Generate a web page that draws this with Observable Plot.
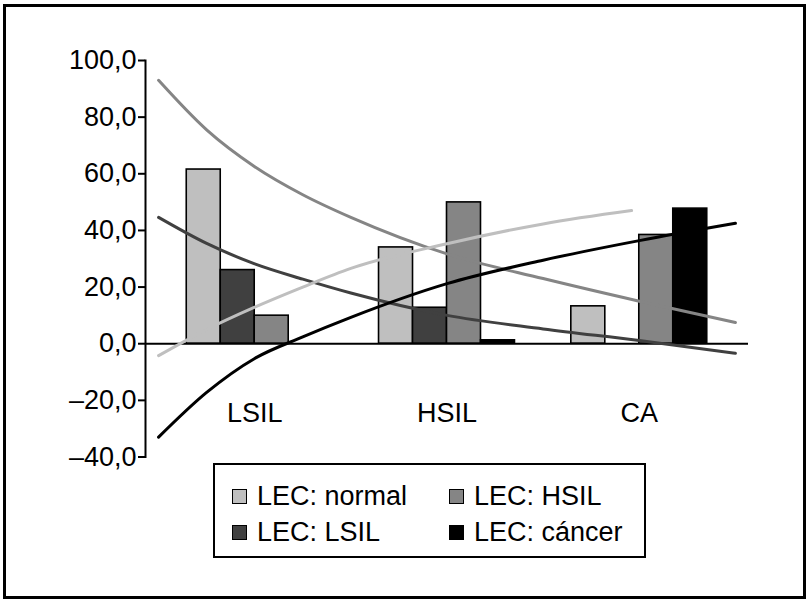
<!DOCTYPE html>
<html>
<head>
<meta charset="utf-8">
<script src="https://cdn.jsdelivr.net/npm/d3@7"></script>
<script src="https://cdn.jsdelivr.net/npm/@observablehq/plot@0.6"></script>
<style>
  html, body { margin: 0; padding: 0; background: #fff; }
  #wrap { position: relative; width: 811px; height: 604px; overflow: hidden; font-family: "Liberation Sans", Arial, sans-serif; }
  #border { position: absolute; left: 3px; top: 4px; width: 803px; height: 595px; box-sizing: border-box; border: 3px solid #000; }
  #chart { position: absolute; left: 0; top: 0; }
  #legend { position: absolute; left: 213px; top: 463px; width: 433px; height: 95px; box-sizing: border-box; border: 2px solid #000; background: #fff; }
  .item { position: absolute; display: flex; align-items: center; height: 32px; font-size: 27px; color: #000; white-space: nowrap; }
  .sw { width: 13px; height: 13px; border: 1.5px solid #000; margin-right: 10px; }
</style>
</head>
<body>
<div id="wrap">
  <div id="border"></div>
  <div id="chart"></div>
  <div id="legend"></div>
</div>
<script>
// ---- data ----
const categories = ["LSIL", "HSIL", "CA"];
const series = ["LEC: normal", "LEC: LSIL", "LEC: HSIL", "LEC: cáncer"];
const seriesColors = ["#bfbfbf", "#404040", "#858585", "#000000"];
const valNormal = [61.5, 34.0, 13.2];
const valLSIL = [26.0, 12.7, 0];
const valHSIL = [9.9, 49.9, 38.4];
const valCancer = [0, 1.2, 47.7];

// trend lines, x in category units (LSIL = 1, HSIL = 2, CA = 3)
const trendX = [0.5, 0.75, 1, 1.25, 1.5, 2, 2.5, 3, 3.5];
const trendNormal = [93, 75.5, 62.5, 52.6, 44.6, 31.7, 23, 15, 7.5];      // medium grey curve
const trendLSIL = [44.6, 35.4, 28.2, 22.8, 17.9, 10, 5.2, 1.1, -3.4];     // dark grey curve
const trendHSILx = [0.5, 0.75, 1, 1.25, 1.5, 2, 2.5, 2.96];
const trendHSIL = [-4.2, 5, 12.9, 20, 26.6, 35.3, 42.3, 47];              // light grey curve
const trendCancer = [-33, -17.2, -5.2, 2.4, 9.3, 21.2, 29.5, 36.4, 42.5]; // black curve

const yTicks = [-40, -20, 0, 20, 40, 60, 80, 100];
const yTickLabels = ["\u201340,0", "\u201320,0", "0,0", "20,0", "40,0", "60,0", "80,0", "100,0"];

// ---- build tables ----
const seriesValues = [valNormal, valLSIL, valHSIL, valCancer];
const groupWidth = 0.707;
const barW = groupWidth / series.length;
const bars = [];
seriesValues.forEach((vals, s) => {
  vals.forEach((v, c) => {
    const left = (c + 1) - groupWidth / 2 + s * barW;
    bars.push({series: series[s], cat: categories[c], x1: left, x2: left + barW, value: v, color: seriesColors[s]});
  });
});
const trends = [];
const addTrend = (xs, ys, color, name) => xs.forEach((x, i) => trends.push({x, y: ys[i], color, name}));
addTrend(trendX, trendNormal, "#858585", "normal");
addTrend(trendX, trendLSIL, "#404040", "lsil");
addTrend(trendHSILx, trendHSIL, "#bfbfbf", "hsil");
addTrend(trendX, trendCancer, "#000000", "cancer");

const chart = Plot.plot({
  width: 811,
  height: 470,
  marginLeft: 145,
  marginRight: 63,
  marginTop: 60,
  marginBottom: 13.5,
  x: {domain: [0.432, 3.568], axis: null},
  y: {domain: [-40, 100], axis: null},
  style: {fontFamily: "'Liberation Sans', Arial, sans-serif", fontSize: "27px", background: "transparent", overflow: "visible"},
  marks: [
    Plot.rectY(bars.filter(d => d.value > 0), {x1: "x1", x2: "x2", y1: 0, y2: "value", fill: "color", stroke: "#000", strokeWidth: 1.6}),
    Plot.ruleY([0], {stroke: "#000", strokeWidth: 2}),
    Plot.line(trends, {x: "x", y: "y", z: "name", stroke: "color", strokeWidth: 3, curve: "monotone-x"}),
    Plot.frame({anchor: "left", stroke: "#000", strokeWidth: 2}),
    Plot.axisY({ticks: yTicks, anchor: "left", tickSize: 7, tickPadding: 2, strokeWidth: 2, fontSize: 27, fill: "#000",
      tickFormat: d => yTickLabels[yTicks.indexOf(d)]}),
    Plot.text(categories, {x: (d, i) => i + 1, y: 0, dy: 70, text: d => d, fontSize: 27, fill: "#000"})
  ]
});
document.getElementById("chart").appendChild(chart);

// ---- legend ----
const legend = document.getElementById("legend");
const legendPos = [[17, 15], [17, 51], [234, 15], [234, 51]]; // normal, LSIL, HSIL, cáncer
series.forEach((s, i) => {
  const it = document.createElement("div");
  it.className = "item";
  it.style.left = legendPos[i][0] + "px";
  it.style.top = legendPos[i][1] + "px";
  const sw = document.createElement("span");
  sw.className = "sw";
  sw.style.background = seriesColors[i];
  it.appendChild(sw);
  it.appendChild(document.createTextNode(s));
  legend.appendChild(it);
});
</script>
</body>
</html>
